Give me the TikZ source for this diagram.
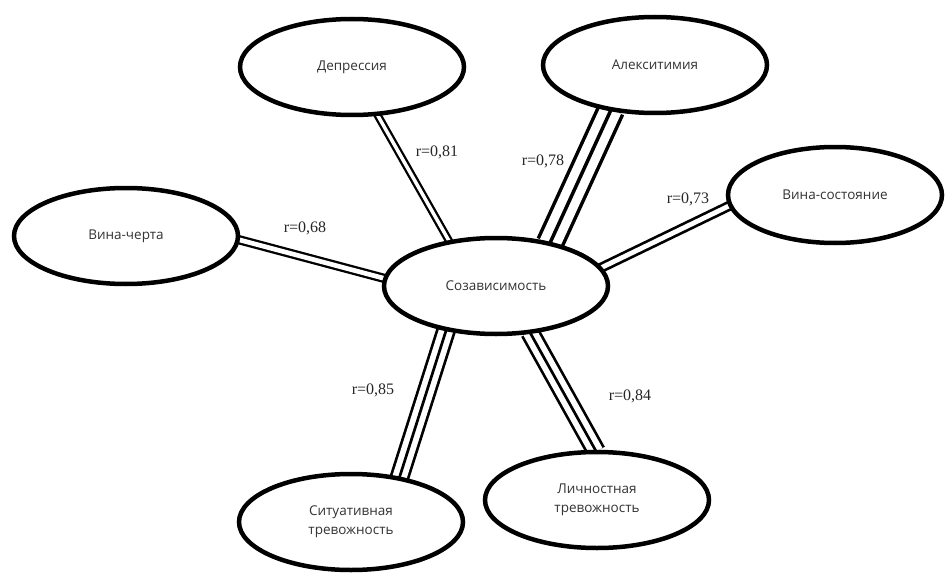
\documentclass[tikz,border=0pt]{standalone}
\usepackage{fontspec}
\setmainfont{Liberation Serif}
\newfontfamily\lab{Open Sans}
\usetikzlibrary{shapes.geometric,backgrounds}
\begin{document}
\begin{tikzpicture}[x=1pt,y=1pt,
  oval/.style={ellipse, draw=black, line width=4.5pt, fill=white,
    minimum width=224pt, minimum height=96pt, inner sep=0pt,
    font=\lab\fontsize{13.5}{19}\selectfont, text=black!80, align=center},
  rlab/.style={font=\fontsize{16}{18}\selectfont, text=black!85, inner sep=0pt},
  twoline/.style 2 args={line width=#1, double=white, double distance=#2,
    shorten <=-2pt, shorten >=-2pt},
  threeout/.style 2 args={line width=#1, double=white, double distance=#2,
    shorten <=-2pt, shorten >=-2pt},
  threein/.style={line width=#1, shorten <=-2pt, shorten >=-2pt}]
\path[use as bounding box] (0,0) rectangle (947,-575);

\node[oval] (cen) at (496,-286) {Созависимость};
\node[oval] (dep) at (352,-67) {Депрессия};
\node[oval] (alx) at (655,-65) {Алекситимия};
\node[oval] (vch) at (126,-236) {Вина-черта};
\node[oval, minimum width=214pt] (vst) at (835,-195) {Вина-состояние};
\node[oval] (sit) at (351,-522) {Ситуативная\\тревожность};
\node[oval] (lich) at (597,-500) {Личностная\\тревожность};

\begin{scope}[on background layer]
  \draw[twoline={2.3pt}{3.5pt}] (dep.-62) -- (cen.136);
  \draw[twoline={2.3pt}{4.7pt}] (vch.-2) -- (cen.176);
  \draw[twoline={2.7pt}{4.8pt}] (vst.186.7) -- (cen.10);
  \draw[threeout={3.5pt}{21.5pt}] (alx.226) -- (cen.39);
  \draw[threein=3.5pt] (alx.226) -- (cen.39);
  \draw[threeout={2.7pt}{14.3pt}] (sit.43.8) -- (cen.222);
  \draw[threein=2.7pt] (sit.43.8) -- (cen.222);
  \draw[threeout={2.7pt}{14.3pt}] (lich.92.7) -- (cen.-54.8);
  \draw[threein=2.7pt] (lich.92.7) -- (cen.-54.8);
\end{scope}

\node[rlab] (l81) at (437,-152) {r=0,81};
\node[rlab] (l78) at (543,-161) {r=0,78};
\node[rlab] (l68) at (305,-228) {r=0,68};
\node[rlab] (l73) at (688,-199) {r=0,73};
\node[rlab] (l85) at (373,-390) {r=0,85};
\node[rlab] (l84) at (630,-396) {r=0,84};
\end{tikzpicture}
\end{document}
